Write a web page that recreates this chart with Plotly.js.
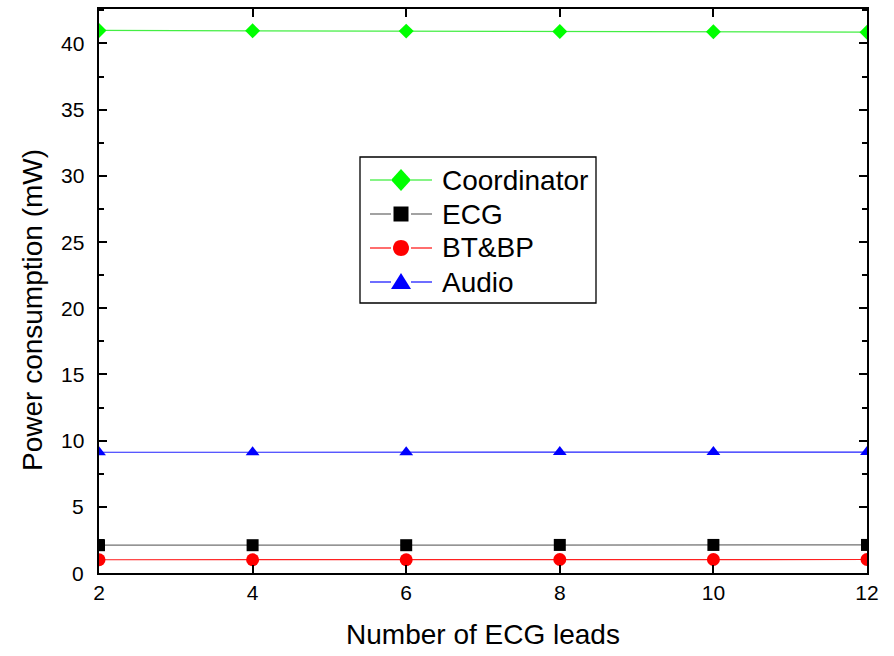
<!DOCTYPE html>
<html>
<head>
<meta charset="utf-8">
<script src="https://cdn.plot.ly/plotly-3.0.1.min.js"></script>
<style>html,body{margin:0;padding:0;background:#fff;}#chart{width:894px;height:656px;}</style>
</head>
<body>
<div id="chart"></div>
<script>
const leads = [2, 4, 6, 8, 10, 12];
const coordinator = [40.98, 40.95, 40.93, 40.9, 40.88, 40.85];
const ecg = [2.1, 2.1, 2.1, 2.12, 2.12, 2.12];
const btbp = [1.0, 1.0, 1.0, 1.02, 1.02, 1.02];
const audio = [9.12, 9.12, 9.12, 9.13, 9.13, 9.13];
const yTicks = [0, 5, 10, 15, 20, 25, 30, 35, 40];
const seriesNames = ['Coordinator', 'ECG', 'BT&BP', 'Audio'];
const markerColors = ['#00ff00', '#000000', '#ff0000', '#0000ff'];
const lineColors = ['#44ee44', '#707070', '#ff2020', '#2020ff'];
const symbols = ['diamond', 'square', 'circle', 'triangle-up'];
const sizes = [11.5, 12, 13, 12];

const font = 'Liberation Sans, Arial, sans-serif';
const W = 894, H = 656, M = {l: 99, r: 27, t: 9, b: 83};
const pw = W - M.l - M.r, ph = H - M.t - M.b;
const px2x = p => (p - M.l) / pw;
const px2y = p => (H - M.b - p) / ph;

const series = [coordinator, ecg, btbp, audio];
const data = series.map((y, i) => ({
  x: leads, y: y, name: seriesNames[i], type: 'scatter', mode: 'lines+markers',
  line: {color: lineColors[i], width: 1.2},
  marker: {color: markerColors[i], symbol: symbols[i], size: sizes[i], line: {width: 0}},
  cliponaxis: true, showlegend: false
}));

// custom legend box (Origin style)
const shapes = [];
const annotations = [];
const box = {x0: 360, x1: 596, y0: 157, y1: 303};
shapes.push({type: 'rect', xref: 'paper', yref: 'paper',
  x0: px2x(box.x0), x1: px2x(box.x1), y0: px2y(box.y1), y1: px2y(box.y0),
  line: {color: '#000', width: 1.3}, fillcolor: '#fff', layer: 'above'});
const rowY = [180, 214, 248, 282];
let circ = '';
for (let k = 0; k < 32; k++) {
  const a = 2 * Math.PI * k / 32;
  circ += (k ? ' L' : 'M') + (8 * Math.cos(a)).toFixed(2) + ',' + (8 * Math.sin(a)).toFixed(2);
}
circ += ' Z';
const markerPaths = [
  'M0,11 L10,0 L0,-11 L-10,0 Z',
  'M-7.5,-7.5 L7.5,-7.5 L7.5,7.5 L-7.5,7.5 Z',
  circ,
  'M-10,-7 L10,-7 L0,9 Z'
];
seriesNames.forEach((nm, i) => {
  const yy = px2y(rowY[i]);
  [[370, 391], [411, 432]].forEach(seg => shapes.push({type: 'line', xref: 'paper', yref: 'paper',
    x0: px2x(seg[0]), x1: px2x(seg[1]), y0: yy, y1: yy,
    line: {color: lineColors[i], width: 1.3}, layer: 'above'}));
  shapes.push({type: 'path', xref: 'paper', yref: 'paper', xsizemode: 'pixel', ysizemode: 'pixel',
    xanchor: px2x(401), yanchor: yy, path: markerPaths[i],
    fillcolor: markerColors[i], line: {width: 0}, layer: 'above'});
  annotations.push({xref: 'paper', yref: 'paper', x: px2x(440), y: yy, xanchor: 'left', yanchor: 'middle',
    text: nm, showarrow: false, font: {family: font, size: 28, color: '#000'}});
});
// y tick labels, placed with the y axis scale
yTicks.forEach(v => annotations.push({xref: 'paper', yref: 'y', x: px2x(86), y: v,
  xanchor: 'right', yanchor: 'middle', text: String(v), showarrow: false,
  font: {family: font, size: 21, color: '#000'}}));
// y axis title placed like the original
annotations.push({xref: 'paper', yref: 'paper', x: px2x(32), y: px2y(310), xanchor: 'center', yanchor: 'middle',
  text: 'Power consumption (mW)', textangle: -90, showarrow: false,
  font: {family: font, size: 28, color: '#000'}});

const axisCommon = {
  showline: true, linecolor: '#000', linewidth: 2, mirror: 'allticks',
  ticks: 'inside', ticklen: 8, tickwidth: 2, tickcolor: '#000',
  showgrid: false, zeroline: false,
  tickfont: {family: font, size: 21, color: '#000'}
};
const layout = {
  width: W, height: H, margin: M,
  paper_bgcolor: '#fff', plot_bgcolor: '#fff',
  showlegend: false,
  shapes: shapes, annotations: annotations,
  xaxis: Object.assign({}, axisCommon, {
    range: [2, 12], tickvals: leads, ticktext: leads.map(String),
    title: {text: 'Number of ECG leads', font: {family: font, size: 28, color: '#000'}, standoff: 21}
  }),
  yaxis: Object.assign({}, axisCommon, {
    range: [0, 42.6], tickvals: yTicks, showticklabels: false,
    minor: {dtick: 2.5, ticks: 'inside', ticklen: 5, tickwidth: 2, tickcolor: '#000'}
  })
};
Plotly.newPlot('chart', data, layout, {displayModeBar: false, staticPlot: true});
</script>
</body>
</html>
